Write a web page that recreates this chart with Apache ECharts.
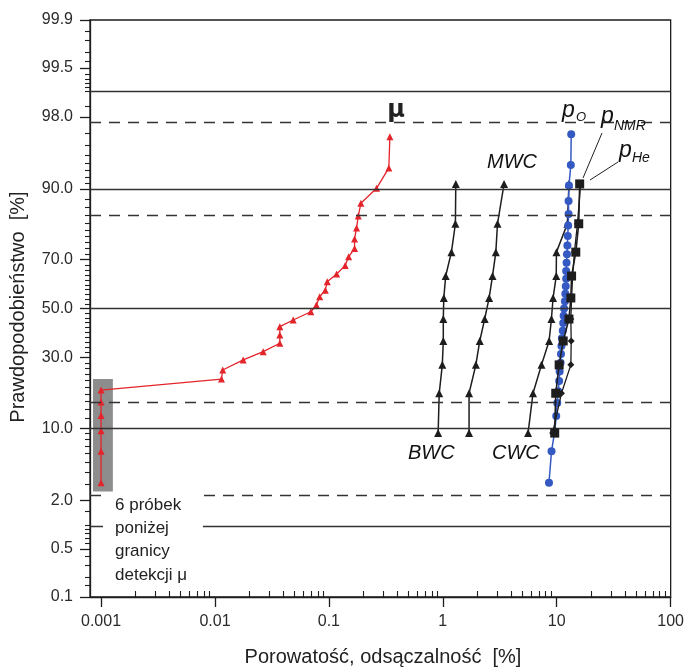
<!DOCTYPE html>
<html>
<head>
<meta charset="utf-8">
<script src="https://cdn.jsdelivr.net/npm/echarts@6/dist/echarts.min.js"></script>
<style>
  html, body { margin: 0; padding: 0; background: #fff; }
  #chart { width: 687px; height: 672px; }
</style>
</head>
<body>
<div id="chart"></div>
<script>
// ---- data: porosity / permeability [%] against cumulative probability [%] ----
const muPorosity = [0.001, 0.001, 0.001, 0.001, 0.001, 0.001, 0.0114, 0.0117, 0.0177, 0.0265,
  0.0371, 0.0371, 0.0371, 0.0486, 0.0694, 0.0777, 0.083, 0.093, 0.0967, 0.117,
  0.139, 0.149, 0.168, 0.168, 0.175, 0.181, 0.191, 0.262, 0.336, 0.343];
const muProb = [3.1, 6.3, 9.5, 12.6, 15.8, 19.1, 22.5, 25.5, 29.1, 32.2,
  35.5, 38.8, 42.3, 45.1, 48.6, 51.5, 55.0, 57.8, 61.3, 64.4,
  67.7, 71.0, 74.0, 77.2, 80.6, 83.9, 87.0, 90.1, 93.4, 96.7];

const wcProb = [9.1, 18.2, 27.3, 36.4, 45.5, 54.5, 63.6, 72.7, 81.8, 90.9];
const bwc = [0.91, 0.93, 0.99, 1.01, 1.01, 1.02, 1.06, 1.19, 1.29, 1.30];
const mwc = [1.70, 1.70, 1.95, 2.11, 2.33, 2.55, 2.73, 2.92, 3.02, 3.45];
const cwc = [5.60, 6.19, 7.35, 8.57, 8.98, 9.29, 9.90, 9.94, 12.4, 12.8];
const pNMR = [9.6, 9.8, 10.5, 11.4, 12.8, 13.3, 13.5, 14.7, 15.6, 15.9];
const pHe = [9.2, 11.0, 13.3, 13.4, 13.3, 13.5, 13.8, 14.3, 15.2, 16.2];

const poProb = [3.1, 6.3, 9.4, 12.5, 15.6, 18.8, 21.9, 25.0, 28.1, 31.3,
  34.4, 37.5, 40.6, 43.8, 46.9, 50.0, 53.1, 56.3, 59.4, 62.5,
  65.6, 68.8, 71.9, 75.0, 78.1, 81.3, 84.4, 87.5, 90.6, 93.8, 96.9];
const pO = [8.55, 9.0, 9.6, 9.9, 10.1, 10.3, 10.5, 10.6, 10.8, 10.9,
  11.0, 11.1, 11.3, 11.4, 11.5, 11.6, 11.8, 11.9, 12.0, 12.1,
  12.1, 12.2, 12.3, 12.4, 12.5, 12.6, 12.7, 12.7, 12.8, 13.3, 13.4];

// ---- axes ----
const probTicks = [0.1, 0.5, 2, 10, 30, 50, 70, 90, 98, 99.5, 99.9];
const probTickLabels = ['0.1', '0.5', '2.0', '10.0', '30.0', '50.0', '70.0', '90.0', '98.0', '99.5', '99.9'];
const probMinorTicks = [0.15, 0.2, 0.3, 0.4, 0.6, 0.7, 0.8, 0.9, 1, 1.5, 3, 4, 5, 6, 7, 8, 9,
  12, 14, 16, 18, 20, 22, 24, 26, 28, 32, 34, 36, 38, 40, 42, 44, 46, 48,
  52, 54, 56, 58, 60, 62, 64, 66, 68, 72, 74, 76, 78, 80, 82, 84, 86, 88,
  91, 92, 93, 94, 95, 96, 97, 98.5, 99, 99.1, 99.2, 99.3, 99.4, 99.6, 99.7, 99.8, 99.85];
const porosityTicks = [0.001, 0.01, 0.1, 1, 10, 100];
const porosityTickLabels = ['0.001', '0.01', '0.1', '1', '10', '100'];
const porosityMin = 0.0008;
const porosityMax = 100;

// reference levels on the probability axis
const solidLevels = [1, 10, 50, 90, 99];
const sigmaLevels = [-2, -1, 1, 2];

// detection-limit band for μ
const detectBand = { xFrom: 0.00085, xTo: 0.00127, pFrom: 2.5, pTo: 22.5 };

// inverse standard normal CDF (Acklam)
function probit(percent) {
  const p = percent / 100;
  const a = [-3.969683028665376e+01, 2.209460984245205e+02, -2.759285104469687e+02, 1.383577518672690e+02, -3.066479806614716e+01, 2.506628277459239e+00];
  const b = [-5.447609879822406e+01, 1.615858368580409e+02, -1.556989798598866e+02, 6.680131188771972e+01, -1.328068155288572e+01];
  const c = [-7.784894002430293e-03, -3.223964580411365e-01, -2.400758277161838e+00, -2.549732539343734e+00, 4.374664141464968e+00, 2.938163982698783e+00];
  const d = [7.784695709041462e-03, 3.224671290700398e-01, 2.445134137142996e+00, 3.754408661907416e+00];
  const pl = 0.02425, ph = 1 - pl;
  let q, r;
  if (p < pl) {
    q = Math.sqrt(-2 * Math.log(p));
    return (((((c[0] * q + c[1]) * q + c[2]) * q + c[3]) * q + c[4]) * q + c[5]) / ((((d[0] * q + d[1]) * q + d[2]) * q + d[3]) * q + 1);
  }
  if (p <= ph) {
    q = p - 0.5; r = q * q;
    return (((((a[0] * r + a[1]) * r + a[2]) * r + a[3]) * r + a[4]) * r + a[5]) * q / (((((b[0] * r + b[1]) * r + b[2]) * r + b[3]) * r + b[4]) * r + 1);
  }
  q = Math.sqrt(-2 * Math.log(1 - p));
  return -(((((c[0] * q + c[1]) * q + c[2]) * q + c[3]) * q + c[4]) * q + c[5]) / ((((d[0] * q + d[1]) * q + d[2]) * q + d[3]) * q + 1);
}
const lg = Math.log10;

const zTicks = probTicks.map(probit);
const zMinor = probMinorTicks.map(probit);
const zMin = zTicks[0], zMax = zTicks[zTicks.length - 1];
const xTicks = porosityTicks.map(lg);
const xMinor = [];
for (let k = 0; k < porosityTicks.length - 1; k++) {
  for (let m = 2; m <= 9; m++) xMinor.push(lg(m * porosityTicks[k]));
}
const xMin = lg(porosityMin), xMax = lg(porosityMax);

function pairs(xs, ps) { return xs.map((x, i) => [lg(x), probit(ps[i])]); }
function labelFor(val, ticks, labels) {
  for (let i = 0; i < ticks.length; i++) if (Math.abs(ticks[i] - val) < 1e-9) return labels[i];
  return '';
}

const FONT = '"Liberation Sans", Arial, sans-serif';
const INK = '#1d1d1d';
const RED = '#e4242b';
const BLUE = '#3559c2';

const chart = echarts.init(document.getElementById('chart'), null, { renderer: 'canvas' });

const refLines = solidLevels.map(p => ({ yAxis: probit(p), lineStyle: { type: 'solid', color: '#333', width: 1.3 } }))
  .concat(sigmaLevels.map(z => ({ yAxis: z, lineStyle: { type: [11, 8], color: '#333', width: 1.3 } })));

function blackSeries(name, xs, ps, symbol, size, width) {
  return {
    name, type: 'line', data: pairs(xs, ps), symbol, symbolSize: size,
    lineStyle: { color: INK, width }, itemStyle: { color: INK }, z: 3
  };
}

chart.setOption({
  animation: false,
  backgroundColor: '#fff',
  grid: { left: 90, right: 16, top: 20, bottom: 75, show: true, borderColor: INK, borderWidth: 1.3, backgroundColor: 'transparent' },
  xAxis: [
    {
      type: 'value', min: xMin, max: xMax, position: 'bottom',
      axisLine: { show: true, onZero: false, lineStyle: { color: INK, width: 1.3 } },
      axisTick: { show: true, inside: false, length: 10, customValues: xTicks, lineStyle: { color: INK, width: 1.3 } },
      axisLabel: { customValues: xTicks, formatter: v => labelFor(v, xTicks, porosityTickLabels), fontSize: 16, color: '#2a2a2a', fontFamily: FONT, margin: 17 },
      splitLine: { show: false }
    },
    {
      type: 'value', min: xMin, max: xMax, position: 'bottom', offset: 0,
      axisLine: { show: false, onZero: false },
      axisTick: { show: true, inside: true, length: 6, customValues: xMinor, lineStyle: { color: INK, width: 1.1 } },
      axisLabel: { show: false }, splitLine: { show: false }
    }
  ],
  yAxis: [
    {
      type: 'value', min: zMin, max: zMax, position: 'left',
      axisLine: { show: true, onZero: false, lineStyle: { color: INK, width: 1.3 } },
      axisTick: { show: true, inside: false, length: 10, customValues: zTicks, lineStyle: { color: INK, width: 1.3 } },
      axisLabel: { customValues: zTicks, formatter: v => labelFor(v, zTicks, probTickLabels), fontSize: 16, color: '#2a2a2a', fontFamily: FONT, margin: 17 },
      splitLine: { show: false }
    },
    {
      type: 'value', min: zMin, max: zMax, position: 'left', offset: 0,
      axisLine: { show: false, onZero: false },
      axisTick: { show: true, inside: false, length: 5, customValues: zMinor, lineStyle: { color: INK, width: 1.1 } },
      axisLabel: { show: false }, splitLine: { show: false }
    }
  ],
  series: [
    {
      name: 'ref', type: 'line', data: [], z: 1, silent: true,
      markLine: { silent: true, symbol: ['none', 'none'], label: { show: false }, data: refLines },
      markArea: {
        silent: true, itemStyle: { color: '#8d8d8d' },
        data: [[{ xAxis: lg(detectBand.xFrom), yAxis: probit(detectBand.pFrom) }, { xAxis: lg(detectBand.xTo), yAxis: probit(detectBand.pTo) }]]
      }
    },
    {
      name: 'μ', type: 'line', data: pairs(muPorosity, muProb), symbol: 'triangle', symbolSize: 7,
      lineStyle: { color: RED, width: 1.3 }, itemStyle: { color: RED }, z: 3
    },
    blackSeries('BWC', bwc, wcProb, 'triangle', 8, 1.5),
    blackSeries('MWC', mwc, wcProb, 'triangle', 8, 1.5),
    blackSeries('CWC', cwc, wcProb, 'triangle', 8, 1.5),
    {
      name: 'pO', type: 'line', data: pairs(pO, poProb), symbol: 'circle', symbolSize: 8,
      lineStyle: { color: BLUE, width: 1.5 }, itemStyle: { color: BLUE }, z: 4
    },
    Object.assign(blackSeries('pHe', pHe, wcProb, 'diamond', 7, 1.3), { z: 5 }),
    Object.assign(blackSeries('pNMR', pNMR, wcProb, 'rect', 9, 1.6), { z: 5 })
  ],
  graphic: [
    // note on samples below the detection limit
    { type: 'rect', shape: { x: 103, y: 493, width: 100, height: 98 }, style: { fill: '#fff' }, z: 50 },
    { type: 'text', x: 115, y: 505, z: 51, style: { text: '6 próbek', font: '17px ' + FONT, fill: '#222', verticalAlign: 'middle' } },
    { type: 'text', x: 115, y: 528, z: 51, style: { text: 'poniżej', font: '17px ' + FONT, fill: '#222', verticalAlign: 'middle' } },
    { type: 'text', x: 115, y: 551, z: 51, style: { text: 'granicy', font: '17px ' + FONT, fill: '#222', verticalAlign: 'middle' } },
    { type: 'text', x: 115, y: 575, z: 51, style: { text: 'detekcji μ', font: '17px ' + FONT, fill: '#222', verticalAlign: 'middle' } },
    // series names
    { type: 'text', x: 396, y: 111, z: 51, style: { text: 'μ', font: 'bold 24px "DejaVu Sans", sans-serif', fill: '#222', align: 'center', verticalAlign: 'middle' } },
    { type: 'text', x: 487, y: 162, z: 51, style: { text: 'MWC', font: 'italic 20px ' + FONT, fill: '#111', verticalAlign: 'middle' } },
    { type: 'text', x: 408, y: 453, z: 51, style: { text: 'BWC', font: 'italic 20px ' + FONT, fill: '#111', verticalAlign: 'middle' } },
    { type: 'text', x: 492, y: 453, z: 51, style: { text: 'CWC', font: 'italic 20px ' + FONT, fill: '#111', verticalAlign: 'middle' } },
    { type: 'text', x: 562, y: 111, z: 51, style: { text: 'p', font: 'italic 23px ' + FONT, fill: '#111', verticalAlign: 'middle' } },
    { type: 'text', x: 576, y: 117, z: 51, style: { text: 'O', font: 'italic 13px ' + FONT, fill: '#111', verticalAlign: 'middle' } },
    { type: 'text', x: 601, y: 117, z: 51, style: { text: 'p', font: 'italic 23px ' + FONT, fill: '#111', verticalAlign: 'middle' } },
    { type: 'text', x: 614, y: 126, z: 51, style: { text: 'NMR', font: 'italic 14px ' + FONT, fill: '#111', verticalAlign: 'middle' } },
    { type: 'text', x: 619, y: 151, z: 51, style: { text: 'p', font: 'italic 23px ' + FONT, fill: '#111', verticalAlign: 'middle' } },
    { type: 'text', x: 632, y: 158, z: 51, style: { text: 'He', font: 'italic 14px ' + FONT, fill: '#111', verticalAlign: 'middle' } },
    { type: 'line', z: 51, shape: { x1: 602, y1: 133, x2: 583, y2: 178 }, style: { stroke: '#222', lineWidth: 1 } },
    { type: 'line', z: 51, shape: { x1: 618, y1: 162, x2: 590, y2: 180 }, style: { stroke: '#222', lineWidth: 1 } },
    // axis titles
    { type: 'text', x: 18, y: 307, rotation: Math.PI / 2, z: 51, style: { text: 'Prawdopodobieństwo  [%]', font: '20px ' + FONT, fill: '#222', align: 'center', verticalAlign: 'middle' } },
    { type: 'text', x: 383, y: 657, z: 51, style: { text: 'Porowatość, odsączalność  [%]', font: '20px ' + FONT, fill: '#222', align: 'center', verticalAlign: 'middle' } }
  ]
});
</script>
</body>
</html>
